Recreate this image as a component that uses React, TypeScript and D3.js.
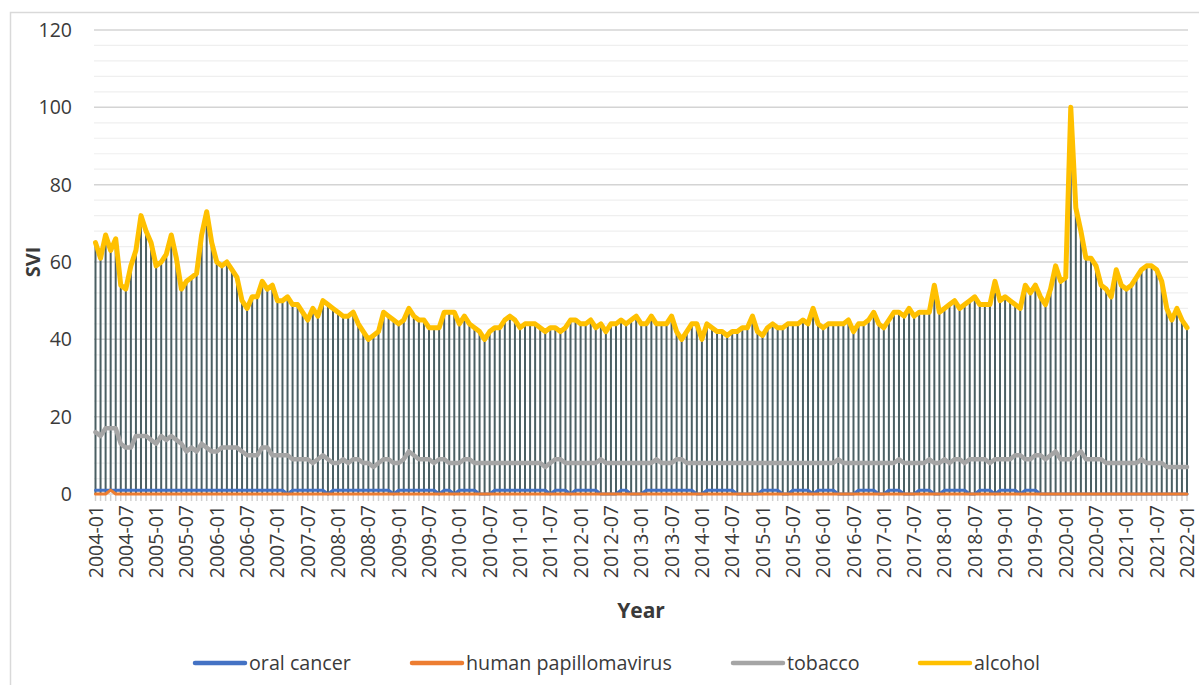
import React, { useEffect, useRef } from "react";
import * as d3 from "d3";

// monthly search volume index, 2004-01 .. 2022-01
const alcohol = [
  65, 61, 67, 63, 66, 54, 53, 59, 63, 72,
  68, 65, 59, 60, 62, 67, 61, 53, 55, 56,
  57, 67, 73, 65, 60, 59, 60, 58, 56, 50,
  48, 51, 51, 55, 53, 54, 50, 50, 51, 49,
  49, 47, 45, 48, 46, 50, 49, 48, 47, 46,
  46, 47, 44, 42, 40, 41, 42, 47, 46, 45,
  44, 45, 48, 46, 45, 45, 43, 43, 43, 47,
  47, 47, 44, 46, 44, 43, 42, 40, 42, 43,
  43, 45, 46, 45, 43, 44, 44, 44, 43, 42,
  43, 43, 42, 43, 45, 45, 44, 44, 45, 43,
  44, 42, 44, 44, 45, 44, 45, 46, 44, 44,
  46, 44, 44, 44, 46, 42, 40, 42, 44, 44,
  40, 44, 43, 42, 42, 41, 42, 42, 43, 43,
  46, 42, 41, 43, 44, 43, 43, 44, 44, 44,
  45, 44, 48, 44, 43, 44, 44, 44, 44, 45,
  42, 44, 44, 45, 47, 44, 43, 45, 47, 47,
  46, 48, 46, 47, 47, 47, 54, 47, 48, 49,
  50, 48, 49, 50, 51, 49, 49, 49, 55, 50,
  51, 50, 49, 48, 54, 52, 54, 51, 49, 53,
  59, 55, 56, 100, 74, 68, 61, 61, 59, 54,
  53, 51, 58, 54, 53, 54, 56, 58, 59, 59,
  58, 55, 48, 45, 48, 45, 43,
];

const tobacco = [
  16, 15, 17, 17, 17, 13, 12, 12, 15, 15,
  15, 14, 13, 15, 14, 15, 14, 13, 11, 12,
  11, 13, 12, 11, 11, 12, 12, 12, 12, 11,
  10, 10, 10, 12, 12, 10, 10, 10, 10, 9,
  9, 9, 9, 8, 9, 10, 9, 8, 8, 9,
  8, 9, 9, 8, 8, 7, 8, 9, 9, 8,
  8, 9, 11, 10, 9, 9, 9, 8, 9, 9,
  8, 8, 8, 9, 9, 8, 8, 8, 8, 8,
  8, 8, 8, 8, 8, 8, 8, 8, 8, 7,
  8, 9, 9, 8, 8, 8, 8, 8, 8, 8,
  9, 8, 8, 8, 8, 8, 8, 8, 8, 8,
  8, 9, 8, 8, 8, 9, 9, 8, 8, 8,
  8, 8, 8, 8, 8, 8, 8, 8, 8, 8,
  8, 8, 8, 8, 8, 8, 8, 8, 8, 8,
  8, 8, 8, 8, 8, 8, 8, 9, 8, 8,
  8, 8, 8, 8, 8, 8, 8, 8, 8, 9,
  8, 8, 8, 8, 8, 9, 8, 8, 9, 8,
  9, 9, 8, 9, 9, 9, 9, 8, 9, 9,
  9, 9, 10, 10, 9, 9, 10, 10, 9, 10,
  11, 9, 9, 9, 10, 11, 9, 9, 9, 9,
  8, 8, 8, 8, 8, 8, 8, 9, 8, 8,
  8, 8, 7, 7, 7, 7, 7,
];

const oralCancer = [
  1, 1, 1, 1, 1, 1, 1, 1, 1, 1,
  1, 1, 1, 1, 1, 1, 1, 1, 1, 1,
  1, 1, 1, 1, 1, 1, 1, 1, 1, 1,
  1, 1, 1, 1, 1, 1, 1, 1, 0, 1,
  1, 1, 1, 1, 1, 1, 0, 1, 1, 1,
  1, 1, 1, 1, 1, 1, 1, 1, 1, 0,
  1, 1, 1, 1, 1, 1, 1, 1, 0, 1,
  1, 0, 1, 1, 1, 1, 0, 0, 0, 1,
  1, 1, 1, 1, 1, 1, 1, 1, 1, 1,
  0, 1, 1, 1, 0, 1, 1, 1, 1, 1,
  0, 0, 0, 0, 1, 1, 0, 0, 0, 1,
  1, 1, 1, 1, 1, 1, 1, 1, 1, 0,
  0, 1, 1, 1, 1, 1, 1, 0, 0, 0,
  0, 0, 1, 1, 1, 1, 0, 0, 1, 1,
  1, 1, 0, 1, 1, 1, 1, 0, 0, 0,
  0, 1, 1, 1, 1, 0, 0, 1, 1, 1,
  0, 0, 0, 1, 1, 1, 0, 0, 1, 1,
  1, 1, 1, 0, 0, 1, 1, 1, 0, 1,
  1, 1, 1, 0, 1, 1, 1, 0, 0, 0,
  0, 0, 0, 0, 0, 0, 0, 0, 0, 0,
  0, 0, 0, 0, 0, 0, 0, 0, 0, 0,
  0, 0, 0, 0, 0, 0, 0,
];

const hpv = [
  0, 0, 0, 1, 0, 0, 0, 0, 0, 0,
  0, 0, 0, 0, 0, 0, 0, 0, 0, 0,
  0, 0, 0, 0, 0, 0, 0, 0, 0, 0,
  0, 0, 0, 0, 0, 0, 0, 0, 0, 0,
  0, 0, 0, 0, 0, 0, 0, 0, 0, 0,
  0, 0, 0, 0, 0, 0, 0, 0, 0, 0,
  0, 0, 0, 0, 0, 0, 0, 0, 0, 0,
  0, 0, 0, 0, 0, 0, 0, 0, 0, 0,
  0, 0, 0, 0, 0, 0, 0, 0, 0, 0,
  0, 0, 0, 0, 0, 0, 0, 0, 0, 0,
  0, 0, 0, 0, 0, 0, 0, 0, 0, 0,
  0, 0, 0, 0, 0, 0, 0, 0, 0, 0,
  0, 0, 0, 0, 0, 0, 0, 0, 0, 0,
  0, 0, 0, 0, 0, 0, 0, 0, 0, 0,
  0, 0, 0, 0, 0, 0, 0, 0, 0, 0,
  0, 0, 0, 0, 0, 0, 0, 0, 0, 0,
  0, 0, 0, 0, 0, 0, 0, 0, 0, 0,
  0, 0, 0, 0, 0, 0, 0, 0, 0, 0,
  0, 0, 0, 0, 0, 0, 0, 0, 0, 0,
  0, 0, 0, 0, 0, 0, 0, 0, 0, 0,
  0, 0, 0, 0, 0, 0, 0, 0, 0, 0,
  0, 0, 0, 0, 0, 0, 0,
];

// one category per month
const months = d3
  .timeMonth.range(new Date(2004, 0, 1), new Date(2022, 1, 1))
  .map(d3.timeFormat("%Y-%m"));

const yTicks = [0, 20, 40, 60, 80, 100, 120];

const seriesNames = ["oral cancer", "human papillomavirus", "tobacco", "alcohol"];
const seriesColors = ["#4472C4", "#ED7D31", "#A5A5A5", "#FFC000"];
const seriesWidths = [3, 3, 4.5, 5];

const FONT = "'Open Sans', 'Noto Sans', sans-serif";

const App = () => {
  const svgRef = useRef<SVGSVGElement>(null);

  useEffect(() => {
    const width = 1199;
    const height = 685;
    const svg = d3.select(svgRef.current).attr("width", width).attr("height", height);
    svg.selectAll("*").remove();

    const series = [oralCancer, hpv, tobacco, alcohol];

    const x = d3.scalePoint<string>().domain(months).range([95.5, 1187]);
    const y = d3.scaleLinear().domain([0, 120]).range([494, 30]);

    // chart area border
    svg.append("rect")
      .attr("x", 10.5).attr("y", 12.5)
      .attr("width", 1220).attr("height", 700)
      .attr("fill", "#fff")
      .attr("stroke", "#d9d9d9")
      .attr("stroke-width", 1.5);

    // minor gridlines
    svg.append("g")
      .selectAll("line")
      .data(d3.range(0, 121, 4).filter((v) => v % 20 !== 0))
      .join("line")
      .attr("x1", 94).attr("x2", 1188)
      .attr("y1", (d) => y(d)).attr("y2", (d) => y(d))
      .attr("stroke", "#efefef")
      .attr("stroke-width", 1.2);

    // major gridlines
    svg.append("g")
      .selectAll("line")
      .data(yTicks)
      .join("line")
      .attr("x1", 94).attr("x2", 1188)
      .attr("y1", (d) => y(d)).attr("y2", (d) => y(d))
      .attr("stroke", "#d4d4d4")
      .attr("stroke-width", 1.5);

    // y tick labels
    svg.append("g")
      .selectAll("text")
      .data(yTicks)
      .join("text")
      .attr("x", 72)
      .attr("y", (d) => y(d))
      .attr("dy", "0.36em")
      .attr("text-anchor", "end")
      .attr("font-family", FONT)
      .attr("font-size", 19.5)
      .attr("fill", "#3a3a3a")
      .text((d) => d);

    // category tick marks
    svg.append("g")
      .selectAll("line")
      .data(months)
      .join("line")
      .attr("x1", (d) => x(d)!).attr("x2", (d) => x(d)!)
      .attr("y1", 495).attr("y2", 501)
      .attr("stroke", "#d0d0d0")
      .attr("stroke-width", 1.5);

    // high-low lines
    svg.append("g")
      .selectAll("line")
      .data(months)
      .join("line")
      .attr("x1", (d) => x(d)!).attr("x2", (d) => x(d)!)
      .attr("y1", (d, i) => y(d3.min(series, (s) => s[i])!))
      .attr("y2", (d, i) => y(d3.max(series, (s) => s[i])!))
      .attr("stroke", "#4a5f63")
      .attr("stroke-width", 2);

    // series lines
    const line = d3
      .line<number>()
      .x((d, i) => x(months[i])!)
      .y((d) => y(d));

    series.forEach((s, k) => {
      svg.append("path")
        .datum(s)
        .attr("d", line)
        .attr("fill", "none")
        .attr("stroke", seriesColors[k])
        .attr("stroke-width", seriesWidths[k])
        .attr("stroke-linejoin", "round")
        .attr("stroke-linecap", "round");
    });

    // x tick labels, every 6 months
    svg.append("g")
      .selectAll("text")
      .data(months.filter((d, i) => i % 6 === 0))
      .join("text")
      .attr("transform", (d) => `translate(${x(d)},505) rotate(-90)`)
      .attr("dy", "0.36em")
      .attr("text-anchor", "end")
      .attr("font-family", FONT)
      .attr("font-size", 19.5)
      .attr("fill", "#3a3a3a")
      .text((d) => d);

    // axis titles
    svg.append("text")
      .attr("transform", "translate(33,262) rotate(-90)")
      .attr("dy", "0.36em")
      .attr("text-anchor", "middle")
      .attr("font-family", FONT)
      .attr("font-weight", "bold")
      .attr("font-size", 20)
      .attr("fill", "#3a3a3a")
      .text("SVI");

    svg.append("text")
      .attr("x", 641).attr("y", 618)
      .attr("text-anchor", "middle")
      .attr("font-family", FONT)
      .attr("font-weight", "bold")
      .attr("font-size", 21)
      .attr("fill", "#3a3a3a")
      .text("Year");

    // legend
    const legendX = [193, 410, 731, 918];
    const legend = svg.append("g")
      .selectAll("g")
      .data(seriesNames)
      .join("g")
      .attr("transform", (d, i) => `translate(${legendX[i]},663)`);

    legend.append("line")
      .attr("x1", 2).attr("x2", 52)
      .attr("stroke", (d, i) => seriesColors[i])
      .attr("stroke-width", 4.5)
      .attr("stroke-linecap", "round");

    legend.append("text")
      .attr("x", 56)
      .attr("dy", "0.34em")
      .attr("font-family", FONT)
      .attr("font-size", 19.7)
      .attr("fill", "#3a3a3a")
      .text((d) => d);
  }, []);

  return (
    <div style={{ position: "absolute", left: 0, top: 0 }}>
      <svg ref={svgRef} style={{ display: "block" }}></svg>
    </div>
  );
};

export default App;
